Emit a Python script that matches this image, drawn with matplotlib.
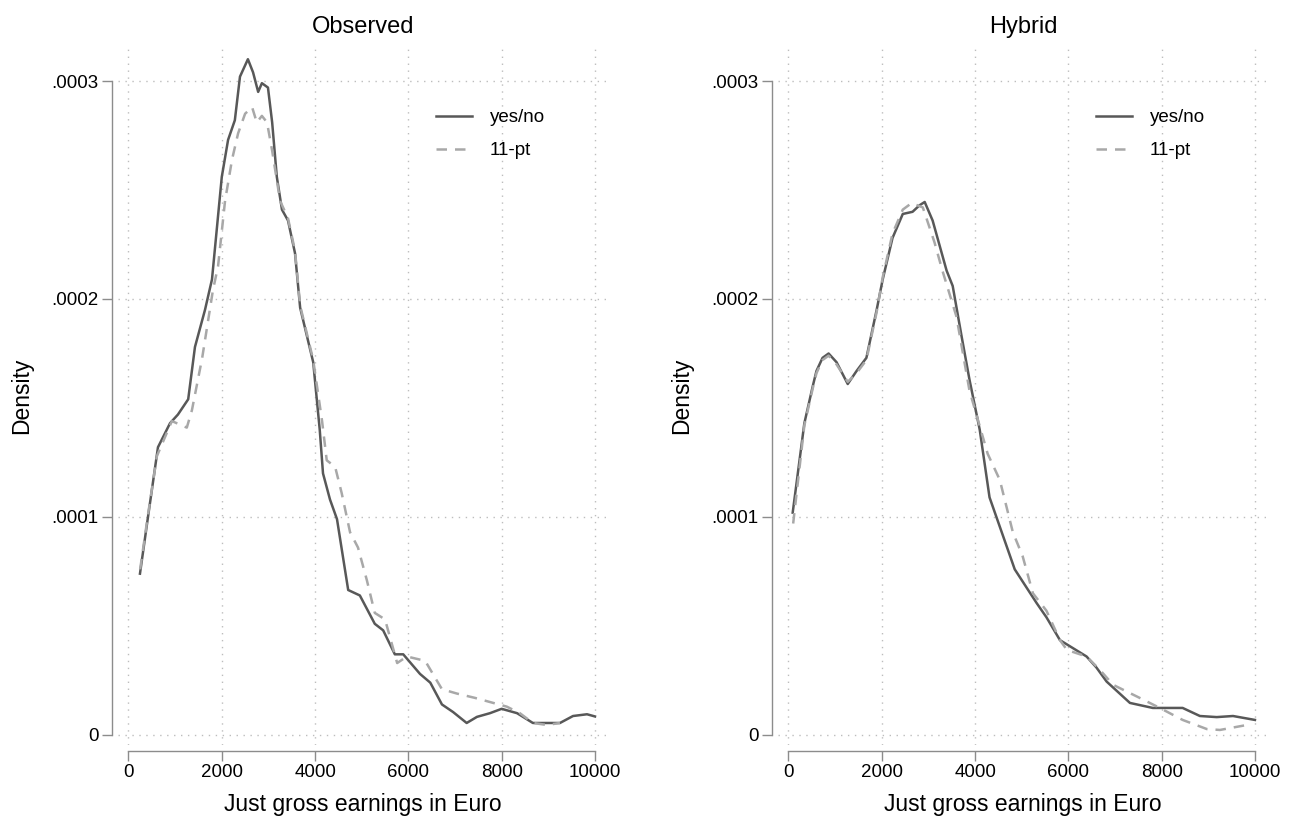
import numpy as np
import matplotlib
matplotlib.use("Agg")
import matplotlib.pyplot as plt

plt.rcParams["font.family"] = ["Liberation Sans", "DejaVu Sans"]

# values, density in units of 1e-4
obs_yes_x = [246, 418, 632, 890, 1060, 1280, 1425, 1640, 1790, 2000, 2135, 2280, 2390, 2560,
             2670, 2780, 2860, 2990, 3080, 3180, 3290, 3420, 3570, 3680, 3960, 4100, 4170,
             4320, 4470, 4710, 4960, 5280, 5460, 5710, 5890, 6250, 6470, 6720, 6960, 7250,
             7470, 7750, 8000, 8330, 8670, 9250, 9530, 9830, 10000]
obs_yes_y = [0.74, 1.00, 1.32, 1.43, 1.47, 1.54, 1.78, 1.95, 2.09, 2.56, 2.73, 2.82, 3.02, 3.10,
             3.04, 2.95, 2.99, 2.97, 2.81, 2.56, 2.41, 2.36, 2.21, 1.96, 1.71, 1.40, 1.20,
             1.08, 0.99, 0.665, 0.64, 0.51, 0.48, 0.37, 0.37, 0.28, 0.24, 0.14, 0.105, 0.055,
             0.083, 0.10, 0.12, 0.10, 0.055, 0.055, 0.087, 0.095, 0.085]

obs_11_x = [250, 418, 610, 930, 1250, 1360, 1580, 1810, 1920, 2070, 2220, 2350, 2500, 2650,
            2750, 2860, 2970, 3080, 3250, 3420, 3570, 3680, 3960, 4150, 4250, 4430, 4570,
            4750, 4920, 5110, 5280, 5500, 5760, 5970, 6360, 6720, 7040, 7430, 7820, 8110,
            8390, 8670, 8970, 9250]
obs_11_y = [0.76, 1.01, 1.28, 1.44, 1.41, 1.49, 1.73, 2.04, 2.15, 2.45, 2.64, 2.76, 2.85, 2.88,
            2.81, 2.84, 2.81, 2.68, 2.45, 2.37, 2.22, 1.97, 1.72, 1.44, 1.26, 1.23, 1.11,
            0.93, 0.86, 0.71, 0.56, 0.53, 0.33, 0.36, 0.34, 0.21, 0.19, 0.17, 0.147, 0.13,
            0.10, 0.055, 0.046, 0.055]

hyb_yes_x = [90, 340, 520, 600, 730, 860, 1030, 1270, 1460, 1670, 1890, 2020, 2230, 2450,
             2660, 2810, 2920, 3090, 3390, 3520, 3710, 3880, 4100, 4310, 4850, 5320, 5530,
             5820, 6390, 6600, 6820, 7320, 7810, 8450, 8820, 9180, 9530, 10000]
hyb_yes_y = [1.02, 1.43, 1.60, 1.67, 1.73, 1.75, 1.71, 1.61, 1.67, 1.73, 1.95, 2.09, 2.28, 2.39,
             2.40, 2.43, 2.445, 2.36, 2.13, 2.06, 1.83, 1.63, 1.40, 1.09, 0.76, 0.605, 0.54,
             0.435, 0.36, 0.31, 0.245, 0.147, 0.124, 0.124, 0.087, 0.082, 0.087, 0.069]

hyb_11_x = [100, 340, 520, 600, 730, 860, 1030, 1270, 1460, 1670, 1890, 2020, 2230, 2450,
            2640, 2880, 3130, 3300, 3600, 3880, 4270, 4530, 4810, 5020, 5240, 5530, 5820,
            5970, 6390, 6670, 6960, 7530, 7960, 8450, 8970, 9250, 9830]
hyb_11_y = [0.97, 1.42, 1.59, 1.66, 1.72, 1.74, 1.70, 1.62, 1.66, 1.72, 1.94, 2.10, 2.30, 2.41,
            2.44, 2.42, 2.26, 2.13, 1.92, 1.58, 1.29, 1.17, 0.93, 0.82, 0.65, 0.57, 0.435,
            0.39, 0.36, 0.30, 0.23, 0.17, 0.124, 0.069, 0.027, 0.023, 0.046]

panels = [("Observed", obs_yes_x, obs_yes_y, obs_11_x, obs_11_y),
          ("Hybrid", hyb_yes_x, hyb_yes_y, hyb_11_x, hyb_11_y)]
series_names = ["yes/no", "11-pt"]
xticks = [0, 2000, 4000, 6000, 8000, 10000]
yticks = [0, 1e-4, 2e-4, 3e-4]
ytick_labels = ["0", ".0001", ".0002", ".0003"]

W, H = 1294, 818
fig = plt.figure(figsize=(W / 100, H / 100), dpi=100)
fig.patch.set_facecolor("white")

axis_col = "#8c8c8c"
for i, (title, x1, y1, x2, y2) in enumerate(panels):
    left_px = 118 if i == 0 else 778
    ax = fig.add_axes([left_px / W, 73 / H, 490 / W, 698 / H])
    ax.plot(x1, np.array(y1) * 1e-4, color="#585858", lw=1.8, label=series_names[0])
    ax.plot(x2, np.array(y2) * 1e-4, color="#a8a8a8", lw=1.8,
            linestyle=(0, (4.2, 3.2)), label=series_names[1])
    ax.set_xlim(-225, 10280)
    ax.set_ylim(-0.046e-4, 3.156e-4)
    ax.set_xticks(xticks)
    ax.set_yticks(yticks)
    ax.set_yticklabels(ytick_labels)
    ax.grid(True, linestyle=(0, (1, 4)), color="#bdbdbd", lw=1.0)
    for s in ["top", "right"]:
        ax.spines[s].set_visible(False)
    ax.spines["left"].set_position(("outward", 4))
    ax.spines["bottom"].set_position(("outward", 4))
    ax.spines["left"].set_bounds(0, 3e-4)
    ax.spines["bottom"].set_bounds(0, 10000)
    for s in ["left", "bottom"]:
        ax.spines[s].set_color(axis_col)
        ax.spines[s].set_linewidth(1.0)
    ax.tick_params(colors=axis_col, labelcolor="black", labelsize=13.5,
                   length=7, width=1.0, pad=3)
    ax.set_title(title, fontsize=17, pad=10)
    ax.set_ylabel("Density", fontsize=16.5, labelpad=13)
    ax.set_xlabel("Just gross earnings in Euro", fontsize=16.5, labelpad=8)
    ax.legend(loc="upper left", bbox_to_anchor=(0.615, 0.935), frameon=False,
              fontsize=13.5, handlelength=1.9, handletextpad=0.95, labelspacing=0.85)

fig.savefig("out.png", dpi=100, facecolor="white")
